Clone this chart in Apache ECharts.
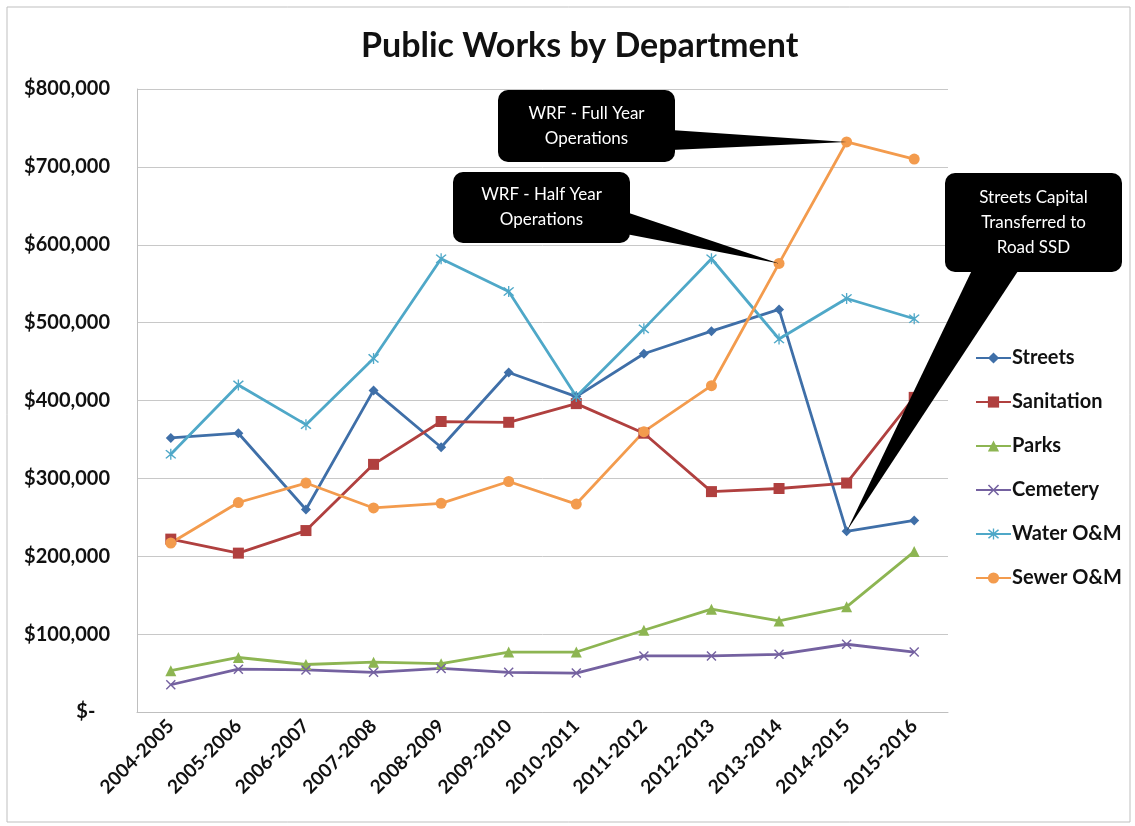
<!DOCTYPE html>
<html><head><meta charset="utf-8">
<script src="https://cdn.jsdelivr.net/npm/echarts@6/dist/echarts.min.js"></script>
<style>html,body{margin:0;padding:0;background:#fff}#c{width:1135px;height:826px}</style>
</head><body><div id="c"></div>
<script>
const categories = ['2004-2005','2005-2006','2006-2007','2007-2008','2008-2009','2009-2010','2010-2011','2011-2012','2012-2013','2013-2014','2014-2015','2015-2016'];
const streets    = [352000, 358000, 260000, 413000, 340000, 436000, 405000, 460000, 489000, 517000, 232000, 246000];
const sanitation = [222000, 204000, 233000, 318000, 373000, 372000, 396000, 358000, 283000, 287000, 294000, 404000];
const parks      = [53000, 70000, 61000, 64000, 62000, 77000, 77000, 105000, 132000, 117000, 135000, 206000];
const cemetery   = [35000, 55000, 54000, 51000, 56000, 51000, 50000, 72000, 72000, 74000, 87000, 77000];
const water      = [331000, 420000, 369000, 454000, 582000, 540000, 405000, 492000, 582000, 479000, 531000, 505000];
const sewer      = [217000, 269000, 294000, 262000, 268000, 296000, 267000, 360000, 419000, 576000, 732000, 710000];
const seriesNames = ['Streets','Sanitation','Parks','Cemetery','Water O&M','Sewer O&M'];
const yTicks = {min: 0, max: 800000, interval: 100000};
const callouts = [
  {text: 'WRF - Full Year\nOperations', series: 'sewer', index: 10},
  {text: 'WRF - Half Year\nOperations', series: 'sewer', index: 9},
  {text: 'Streets Capital\nTransferred to\nRoad SSD', series: 'streets', index: 10}
];

const FONT = 'Lato, "Open Sans", sans-serif';
const X_PATH = 'path://M0,1L1,0L5,4L9,0L10,1L6,5L10,9L9,10L5,6L1,10L0,9L4,5Z';
const AST_PATH = 'path://M0,1L1,0L5,4L9,0L10,1L6,5L10,9L9,10L5,6L1,10L0,9L4,5ZM4.4,-1L5.6,-1L5.6,11L4.4,11Z';

const chart = echarts.init(document.getElementById('c'), null, {renderer: 'canvas'});

function mk(name, data, color, symbol, size) {
  return {
    name, type: 'line', data, symbol, symbolSize: size, showAllSymbol: true,
    lineStyle: {width: 2.8, color}, itemStyle: {color},
    emphasis: {disabled: true}, animation: false
  };
}

const dataMap = {streets, sanitation, parks, cemetery, water, sewer};

chart.setOption({
  animation: false,
  backgroundColor: '#fff',
  title: {
    text: 'Public Works by Department', left: 356, top: 24,
    textStyle: {fontFamily: FONT, fontWeight: 'bold', fontSize: 34, color: '#111'}
  },
  grid: {left: 137, right: 187, top: 89, bottom: 114, containLabel: false},
  legend: {
    orient: 'vertical', left: 970, top: 343,
    itemWidth: 35, itemHeight: 14, itemGap: 24,
    data: seriesNames,
    textStyle: {fontFamily: FONT, fontWeight: 'bold', fontSize: 20, color: '#111', padding: [0, 0, 0, -4]}
  },
  xAxis: {
    type: 'category', data: categories, boundaryGap: true,
    axisLine: {lineStyle: {color: '#BFBFBF', width: 1}},
    axisTick: {show: false},
    axisLabel: {rotate: 45, interval: 0, margin: 11, fontFamily: FONT, fontWeight: 'bold', fontSize: 19, color: '#111'}
  },
  yAxis: {
    type: 'value', min: yTicks.min, max: yTicks.max, interval: yTicks.interval,
    axisLine: {show: true, lineStyle: {color: '#BFBFBF'}},
    axisTick: {show: false},
    splitLine: {lineStyle: {color: '#C8C8C8', width: 1}},
    axisLabel: {
      margin: 27, fontFamily: FONT, fontWeight: 'bold', fontSize: 20, color: '#111',
      formatter: v => v === 0 ? '$-   ' : '$' + v.toLocaleString('en-US')
    }
  },
  series: [
    mk('Streets', streets, '#3F6FA8', 'diamond', 10),
    mk('Sanitation', sanitation, '#B0403F', 'rect', 11),
    mk('Parks', parks, '#8DB552', 'triangle', 11),
    mk('Cemetery', cemetery, '#7461A0', X_PATH, 10),
    mk('Water O&M', water, '#4FA8C8', AST_PATH, 11),
    mk('Sewer O&M', sewer, '#F39B4D', 'circle', 11)
  ]
});

// Callouts anchored to data points via the chart's own scales
const boxes = [
  {x: 498, y: 90, w: 177, h: 72, tail: (b) => [[b.x + b.w - 4, b.y + 40], [b.x + b.w - 4, b.y + 60]]},
  {x: 453, y: 172, w: 177, h: 71, tail: (b) => [[b.x + b.w - 4, b.y + 40], [b.x + b.w - 4, b.y + 62]]},
  {x: 945, y: 173, w: 177, h: 99, tail: (b) => [[b.x + 28, b.y + b.h - 4], [b.x + 75, b.y + b.h - 4]]}
];
const graphics = [{
  type: 'rect', shape: {x: 7, y: 7, width: 1123, height: 815}, silent: true,
  style: {fill: 'none', stroke: '#BFBFBF', lineWidth: 1}, z: 0
}];
callouts.forEach((c, i) => {
  const b = boxes[i];
  const tip = chart.convertToPixel({xAxisIndex: 0, yAxisIndex: 0}, [c.index, dataMap[c.series][c.index]]);
  const base = b.tail(b);
  graphics.push({
    type: 'polygon', z: 100, silent: true,
    shape: {points: [base[0], base[1], tip]},
    style: {fill: '#000'}
  });
  graphics.push({
    type: 'rect', z: 101, silent: true,
    shape: {x: b.x, y: b.y, width: b.w, height: b.h, r: 10},
    style: {fill: '#000'}
  });
  graphics.push({
    type: 'text', z: 102, silent: true,
    x: b.x + b.w / 2, y: b.y + b.h / 2,
    style: {
      text: c.text, fill: '#fff', font: '17px ' + FONT,
      align: 'center', verticalAlign: 'middle',
      textAlign: 'center', textVerticalAlign: 'middle', lineHeight: 25
    }
  });
});
chart.setOption({graphic: graphics});
</script>
</body></html>
